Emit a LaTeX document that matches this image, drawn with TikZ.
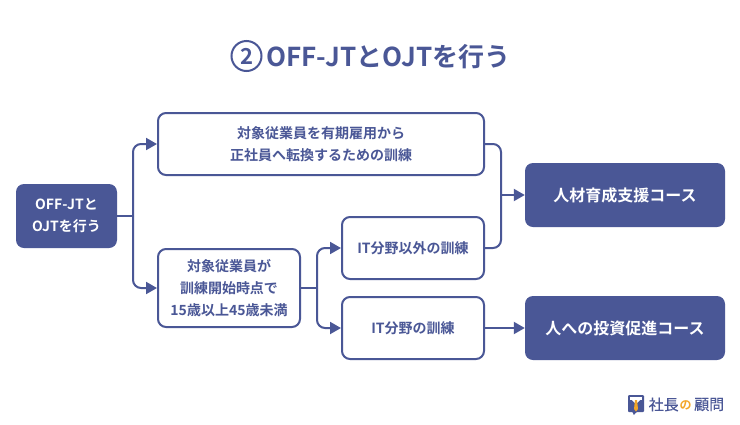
\documentclass[tikz,border=0pt]{standalone}
\usepackage{fontspec}
\setmainfont{Noto Sans CJK JP}[BoldFont={* Bold}]
\newfontfamily\logofont{Noto Sans CJK JP}[FakeBold=0.4]
\usetikzlibrary{arrows.meta,calc}
\definecolor{navy}{RGB}{74,87,150}
\definecolor{tieor}{RGB}{243,166,40}
\tikzset{
  basebox/.style={rounded corners=8pt,align=center,inner sep=0pt,font=\bfseries\fontsize{14}{22}\selectfont},
  outbox/.style={basebox,draw=navy,line width=2pt,fill=white,text=navy},
  solidbox/.style={basebox,fill=navy,text=white},
  conn/.style={draw=navy,line width=2pt,rounded corners=8pt},
  arr/.style={conn,-{Triangle[length=11pt,width=12pt]}},
}
\begin{document}
\begin{tikzpicture}[x=1pt,y=-1pt]
\useasboundingbox (0,0) rectangle (740,424);
\fill[white] (0,0) rectangle (740,424);
\node[circle,draw=navy,line width=2pt,minimum size=30pt,inner sep=0pt,text=navy,font=\bfseries\fontsize{22}{22}\selectfont] (num) at (246.5,56) {2};
\node[anchor=west,inner sep=0pt,text=navy,font=\bfseries\fontsize{26}{30}\selectfont] (title) at (266,57) {OFF-JTとOJTを行う};
\node[solidbox,minimum width=101pt,minimum height=64pt] (a) at (66.5,216) {OFF-JTと\\OJTを行う};
\node[outbox,minimum width=326pt,minimum height=62pt] (b) at (321,144) {対象従業員を有期雇用から\\正社員へ転換するための訓練};
\node[outbox,minimum width=142pt,minimum height=78pt] (c) at (229,288) {対象従業員が\\訓練開始時点で\\15歳以上45歳未満};
\node[outbox,minimum width=142pt,minimum height=62pt] (d) at (413,248) {IT分野以外の訓練};
\node[outbox,minimum width=142pt,minimum height=62pt] (e) at (413,328) {IT分野の訓練};
\node[solidbox,minimum width=200pt,minimum height=64pt,font=\bfseries\fontsize{16}{22}\selectfont] (f) at (625,195) {人材育成支援コース};
\node[solidbox,minimum width=200pt,minimum height=64pt,font=\bfseries\fontsize{16}{22}\selectfont] (g) at (625,328) {人への投資促進コース};
\coordinate (j1) at (133,216);
\coordinate (j2) at (317,288);
\coordinate (j3) at (501,195);
\draw[conn] (a.east) -- (j1);
\draw[arr] (j1) |- (b.west);
\draw[arr] (j1) |- (c.west);
\draw[conn] (c.east) -- (j2);
\draw[arr] (j2) |- (d.west);
\draw[arr] (j2) |- (e.west);
\draw[conn] (b.east) -| (j3);
\draw[conn] (d.east) -| (j3);
\draw[arr] (j3) -- (f.west);
\draw[arr] (e.east) -- (g.west);
% logo
\fill[navy,rounded corners=1pt] (628,395) -- (644,395) -- (644,412) -- (636.5,412) -- (633.5,415.5) -- (633,412) -- (628,412) -- cycle;
\fill[white] (630,396.5) rectangle (642,400);
\fill[white] (632,400) -- (640,400) -- (637,403) -- (635,403) -- cycle;
\fill[tieor] (635,400) -- (637,400) -- (638,409) -- (636,411.5) -- (634,409) -- cycle;
\node[anchor=west,inner sep=0pt,text=navy,font=\logofont\fontsize{15}{16}\selectfont] (logo1) at (648.5,404.5) {社長};
\node[anchor=west,inner sep=0pt,text=tieor,font=\bfseries\fontsize{12}{16}\selectfont] (logo2) at (679.5,405) {の};
\node[anchor=west,inner sep=0pt,text=navy,font=\logofont\fontsize{15}{16}\selectfont] (logo3) at (694,404.5) {顧問};
\end{tikzpicture}
\end{document}
